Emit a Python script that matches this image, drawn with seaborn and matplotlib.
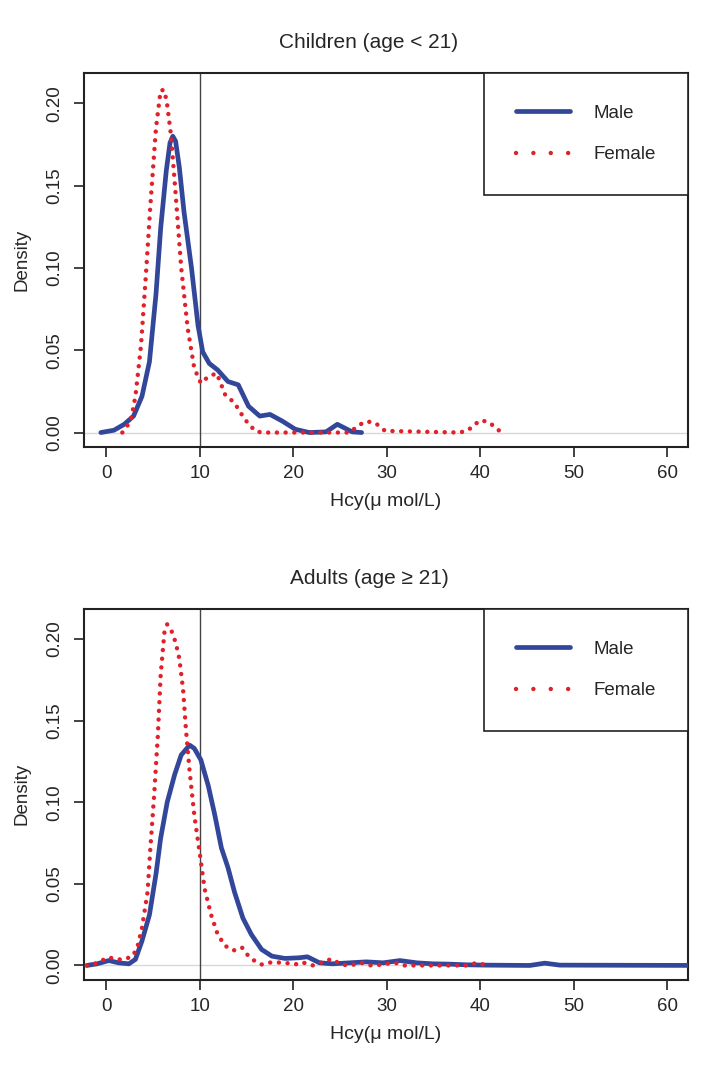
import matplotlib
matplotlib.use("Agg")
import matplotlib.pyplot as plt
import seaborn as sns
import pandas as pd

# Values (density curves of Hcy)
child_male_x = [-0.6, 0.8, 1.9, 2.9, 3.8, 4.6, 5.3, 5.8, 6.4, 6.8, 7.1, 7.4, 7.8, 8.3, 9.1, 9.8,
                10.3, 11.0, 11.9, 13.0, 14.1, 15.2, 16.4, 17.5, 18.8, 20.2, 21.7, 23.5,
                24.7, 26.3, 27.3]
child_male_y = [0.0, 0.0014, 0.005, 0.010, 0.022, 0.043, 0.084, 0.124, 0.159, 0.176, 0.180, 0.177,
                0.161, 0.134, 0.100, 0.065, 0.049, 0.042, 0.038, 0.031, 0.029, 0.016, 0.010,
                0.011, 0.007, 0.002, 0.0, 0.0004, 0.005, 0.0004, 0.0]

child_female_x = [1.7, 2.6, 3.1, 3.7, 4.2, 4.7, 5.3, 5.8, 6.2, 6.5, 6.9, 7.4, 8.0, 8.7, 9.4,
                  10.1, 10.9, 11.8, 12.7, 13.7, 14.8, 15.9, 16.6, 26.0, 26.8, 27.6, 28.4,
                  29.1, 29.8, 37.8, 38.7, 39.4, 40.1, 41.0, 41.7, 42.3]
child_female_y = [0.0, 0.007, 0.022, 0.053, 0.094, 0.138, 0.185, 0.208, 0.208, 0.199, 0.181,
                  0.145, 0.100, 0.063, 0.039, 0.030, 0.034, 0.036, 0.023, 0.018, 0.008,
                  0.001, 0.0, 0.0, 0.0035, 0.0065, 0.0065, 0.0045, 0.001, 0.0, 0.0014,
                  0.005, 0.0075, 0.006, 0.0025, 0.0]

adult_male_x = [-2.1, -1.0, 0.25, 1.3, 2.4, 3.1, 3.8, 4.6, 5.3, 5.8, 6.5, 7.3, 8.0, 8.9, 9.4,
                10.1, 10.9, 11.6, 12.3, 13.0, 13.7, 14.6, 15.5, 16.6, 17.7, 19.1, 20.6,
                21.5, 22.8, 24.2, 26.0, 27.8, 29.6, 31.4, 33.2, 34.9, 36.7, 38.5, 40.6,
                45.3, 46.9, 48.5, 64.0]
adult_male_y = [0.0, 0.001, 0.003, 0.0016, 0.001, 0.0037, 0.015, 0.031, 0.056, 0.078, 0.100,
                0.117, 0.129, 0.135, 0.133, 0.126, 0.110, 0.092, 0.072, 0.060, 0.045, 0.029,
                0.019, 0.0098, 0.0057, 0.0043, 0.0047, 0.0053, 0.0016, 0.001, 0.0016,
                0.0022, 0.0016, 0.003, 0.0016, 0.001, 0.0008, 0.0004, 0.0002, 0.0, 0.0014,
                0.0002, 0.0]

adult_female_x = [-2.1, -1.4, -0.5, 0.25, 1.0, 1.9, 2.8, 3.3, 3.8, 4.4, 4.7, 5.1, 5.5, 5.8,
                  6.2, 6.5, 6.9, 7.4, 7.8, 8.2, 8.5, 8.9, 9.4, 10.0, 10.5, 11.2, 11.9, 12.7,
                  13.6, 14.5, 15.2, 15.9, 16.6, 17.7, 19.1, 20.2, 20.9, 22.1, 23.2, 24.1,
                  24.8, 25.7, 26.6, 27.5, 28.3, 29.3, 30.2, 30.9, 31.8, 38.5, 38.9, 39.7,
                  40.6]
adult_female_y = [0.0, 0.0006, 0.003, 0.005, 0.0037, 0.0037, 0.0057, 0.011, 0.023, 0.045,
                  0.072, 0.104, 0.141, 0.178, 0.204, 0.209, 0.206, 0.198, 0.188, 0.169,
                  0.145, 0.119, 0.092, 0.068, 0.047, 0.031, 0.019, 0.012, 0.0092, 0.011,
                  0.0057, 0.0026, 0.0006, 0.002, 0.0016, 0.0006, 0.002, 0.0, 0.0022, 0.004,
                  0.0016, 0.0, 0.0006, 0.0016, 0.0, 0.0004, 0.0012, 0.0016, 0.0, 0.0,
                  0.0006, 0.0016, 0.0002]

x_ticks = [0, 10, 20, 30, 40, 50, 60]
y_ticks = [0.00, 0.05, 0.10, 0.15, 0.20]
cutoff = 10
panel_titles = ["Children (age < 21)", "Adults (age \u2265 21)"]
series_labels = ["Male", "Female"]

male_color = "#33479a"
female_color = "#e0202a"

sns.set_style("white")
plt.rcParams['font.family'] = ['Liberation Sans', 'DejaVu Sans']
plt.rcParams['font.size'] = 13.5

fig = plt.figure(figsize=(7.12, 10.72), dpi=100)
ax_top = fig.add_axes([0.118, 0.583, 0.848, 0.349])
ax_bot = fig.add_axes([0.118, 0.086, 0.848, 0.346])

panels = [
    (ax_top, child_male_x, child_male_y, child_female_x, child_female_y, panel_titles[0]),
    (ax_bot, adult_male_x, adult_male_y, adult_female_x, adult_female_y, panel_titles[1]),
]

for ax, mx, my, fx, fy, title in panels:
    ax.axhline(0, color="#d8d8d8", lw=1, zorder=1)
    ax.axvline(cutoff, color="#444444", lw=1, zorder=1)
    male = pd.DataFrame({"x": mx, "y": my})
    female = pd.DataFrame({"x": fx, "y": fy})
    sns.lineplot(data=male, x="x", y="y", ax=ax, color=male_color, linewidth=3.4,
                 estimator=None, sort=False, label=series_labels[0], zorder=3,
                 solid_joinstyle="round", solid_capstyle="round")
    sns.lineplot(data=female, x="x", y="y", ax=ax, color=female_color, linewidth=3.2,
                 estimator=None, sort=False, label=series_labels[1], zorder=4,
                 linestyle=(0, (0.01, 1.95)), dash_capstyle="round")

    ax.set_xlim(-2.4, 62.2)
    ax.set_ylim(-0.0088, 0.2185)
    ax.set_xticks(x_ticks)
    ax.set_yticks(y_ticks)
    ax.set_yticklabels([f"{v:.2f}" for v in y_ticks], rotation=90, va="center")
    ax.tick_params(axis="both", direction="out", length=7, width=1.2, color="#222222",
                   labelsize=13.5, pad=8, bottom=True, left=True)
    ax.tick_params(axis="x", pad=6)
    for spine in ax.spines.values():
        spine.set_visible(True)
        spine.set_color("#222222")
        spine.set_linewidth(1.5)

    t = ax.set_title(title, fontsize=15, pad=18)
    t.set_x(0.472)
    ax.set_xlabel("Hcy(\u03bc mol/L)", fontsize=14, labelpad=8)
    ax.set_ylabel("Density", fontsize=13.5, labelpad=11)

    leg = ax.legend(loc="upper right", borderaxespad=0, fancybox=False, frameon=True,
                    edgecolor="#222222", framealpha=1, borderpad=1.7, handlelength=2.9,
                    handletextpad=1.25, labelspacing=1.3, fontsize=13.5)
    leg.get_frame().set_linewidth(1.2)
    # the legend sample of the dotted line has wider spacing than the curve
    leg.get_lines()[1].set_dashes((0.01, 3.9))

fig.savefig("out.png", dpi=100)
